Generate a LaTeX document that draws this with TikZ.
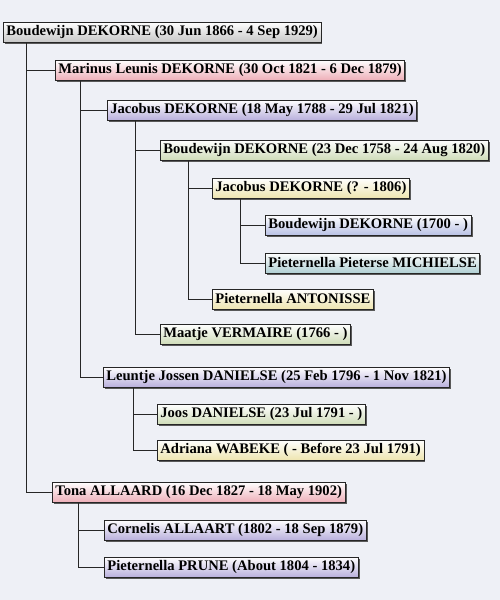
\documentclass[tikz,border=0pt]{standalone}
\usepackage{fontspec}
\setmainfont{Liberation Serif}
\usetikzlibrary{shadows}
\definecolor{bg}{HTML}{EEF0F6}
\definecolor{cGray}{HTML}{9A9A9A}
\definecolor{cRed}{HTML}{E07080}
\definecolor{cPurple}{HTML}{8070C0}
\definecolor{cGreen}{HTML}{A8C080}
\definecolor{cYellow}{HTML}{E0D070}
\definecolor{cBlue}{HTML}{8090D0}
\definecolor{cTeal}{HTML}{70A8B0}
\tikzset{
  person/.style={draw=black!85, line width=0.7pt, anchor=west, minimum height=20pt,
    inner xsep=3pt, inner ysep=1pt, top color=white, bottom color=#1!55,
    font=\fontsize{14.6}{16}\selectfont\bfseries,
    drop shadow={shadow xshift=1.6pt, shadow yshift=-1.6pt, fill=black!65, opacity=1}},
  link/.style={draw=black!85, line width=0.9pt}
}
\begin{document}
\begin{tikzpicture}[x=1pt,y=-1pt]
\fill[bg] (0,0) rectangle (500,600);
\useasboundingbox (0,0) rectangle (500,600);
\node[person=cGray]   (b1)  at (3,32)   {Boudewijn DEKORNE (30 Jun 1866 - 4 Sep 1929)};
\node[person=cRed]    (m)   at (55,70)  {Marinus Leunis DEKORNE (30 Oct 1821 - 6 Dec 1879)};
\node[person=cPurple] (j1)  at (107,110) {Jacobus DEKORNE (18 May 1788 - 29 Jul 1821)};
\node[person=cGreen]  (b2)  at (160,150) {Boudewijn DEKORNE (23 Dec 1758 - 24 Aug 1820)};
\node[person=cYellow] (j2)  at (212,188) {Jacobus DEKORNE (? - 1806)};
\node[person=cBlue]   (b3)  at (265,225) {Boudewijn DEKORNE (1700 - )};
\node[person=cTeal]   (pm)  at (265,263) {Pieternella Pieterse MICHIELSE};
\node[person=cYellow] (pa)  at (212,299) {Pieternella ANTONISSE};
\node[person=cGreen]  (mv)  at (160,334) {Maatje VERMAIRE (1766 - )};
\node[person=cPurple] (ld)  at (103,377) {Leuntje Jossen DANIELSE (25 Feb 1796 - 1 Nov 1821)};
\node[person=cGreen]  (jd)  at (157,414) {Joos DANIELSE (23 Jul 1791 - )};
\node[person=cYellow] (aw)  at (157,450) {Adriana WABEKE ( - Before 23 Jul 1791)};
\node[person=cRed]    (ta)  at (52,492) {Tona ALLAARD (16 Dec 1827 - 18 May 1902)};
\node[person=cPurple] (ca)  at (104,530) {Cornelis ALLAART (1802 - 18 Sep 1879)};
\node[person=cPurple] (pp)  at (104,567) {Pieternella PRUNE (About 1804 - 1834)};
\draw[link] ([xshift=23pt]b1.south west) |- (m.west);
\draw[link] ([xshift=23pt]b1.south west) |- (ta.west);
\draw[link] ([xshift=25pt]m.south west) |- (j1.west);
\draw[link] ([xshift=25pt]m.south west) |- (ld.west);
\draw[link] ([xshift=28pt]j1.south west) |- (b2.west);
\draw[link] ([xshift=28pt]j1.south west) |- (mv.west);
\draw[link] ([xshift=28pt]b2.south west) |- (j2.west);
\draw[link] ([xshift=28pt]b2.south west) |- (pa.west);
\draw[link] ([xshift=28pt]j2.south west) |- (b3.west);
\draw[link] ([xshift=28pt]j2.south west) |- (pm.west);
\draw[link] ([xshift=30pt]ld.south west) |- (jd.west);
\draw[link] ([xshift=30pt]ld.south west) |- (aw.west);
\draw[link] ([xshift=26pt]ta.south west) |- (ca.west);
\draw[link] ([xshift=26pt]ta.south west) |- (pp.west);
\end{tikzpicture}
\end{document}
